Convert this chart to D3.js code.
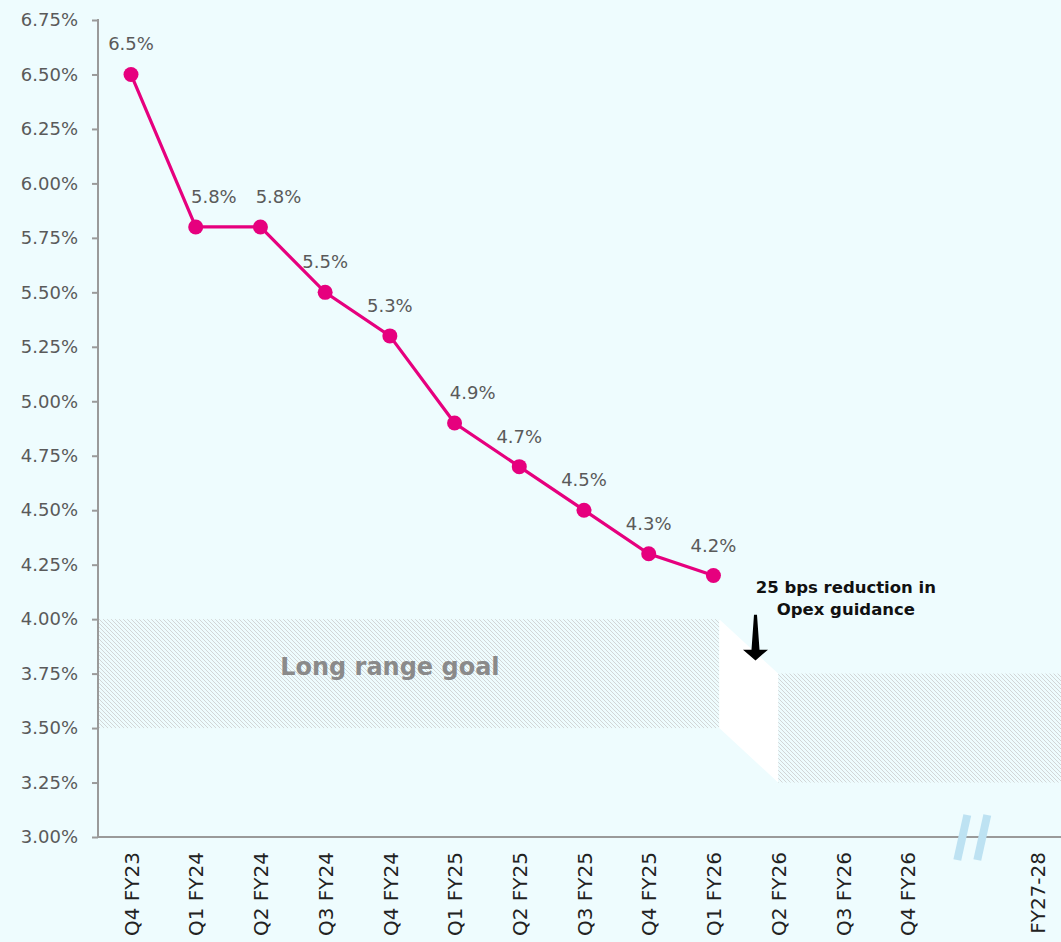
<!DOCTYPE html>
<html>
<head>
<meta charset="utf-8">
<script src="https://cdn.jsdelivr.net/npm/d3@7"></script>
<style>
  html, body { margin: 0; padding: 0; background: #eefcfe; }
  svg { display: block; }
</style>
</head>
<body>
<svg id="chart" width="1061" height="942"></svg>
<script>
// ---- data ----
const categories = ["Q4 FY23","Q1 FY24","Q2 FY24","Q3 FY24","Q4 FY24","Q1 FY25","Q2 FY25","Q3 FY25","Q4 FY25","Q1 FY26","Q2 FY26","Q3 FY26","Q4 FY26","__break__","FY27-28"];
const opexCategories = ["Q4 FY23","Q1 FY24","Q2 FY24","Q3 FY24","Q4 FY24","Q1 FY25","Q2 FY25","Q3 FY25","Q4 FY25","Q1 FY26"];
const opexValues = [6.5, 5.8, 5.8, 5.5, 5.3, 4.9, 4.7, 4.5, 4.3, 4.2];
const opexLabels = ["6.5%","5.8%","5.8%","5.5%","5.3%","4.9%","4.7%","4.5%","4.3%","4.2%"];
const yTicks = [3.00, 3.25, 3.50, 3.75, 4.00, 4.25, 4.50, 4.75, 5.00, 5.25, 5.50, 5.75, 6.00, 6.25, 6.50, 6.75];
const goalOld = [3.50, 4.00];   // long range goal (low, high)
const goalNew = [3.25, 3.75];   // after 25 bps reduction
const goalLabel = "Long range goal";
const annotationLines = ["25 bps reduction in", "Opex guidance"];
// labels nudged right to avoid the line
const nudgedLabels = ["Q1 FY24","Q2 FY24","Q1 FY25"];

(function () {
// ---- layout ----
const W = 1061, H = 942;
const mLeft = 98, mTop = 20, mBottom = 837;
const svg = d3.select("#chart");
const FONT = "'DejaVu Sans', sans-serif";

const x = d3.scalePoint().domain(categories).range([131, 1037]);
const step = x.step();
const y = d3.scaleLinear().domain([3, 6.75]).range([mBottom, mTop]);

// hatch pattern
const defs = svg.append("defs");
const pat = defs.append("pattern").attr("id","hatch").attr("patternUnits","userSpaceOnUse")
  .attr("width",4).attr("height",4);
pat.append("path").attr("d","M-1,-1 L5,5 M-1,3 L1,5 M3,-1 L5,1")
  .attr("stroke","#d2d6d7").attr("stroke-width",1).attr("fill","none");

// goal regions
const oldEnd = x("Q1 FY26") + step * 0.09;
const newStart = x("Q2 FY26");
svg.append("rect")
  .attr("x", mLeft + 1).attr("y", y(goalOld[1]))
  .attr("width", oldEnd - mLeft - 1).attr("height", y(goalOld[0]) - y(goalOld[1]))
  .attr("fill","url(#hatch)");
svg.append("rect")
  .attr("x", newStart).attr("y", y(goalNew[1]))
  .attr("width", W - newStart).attr("height", y(goalNew[0]) - y(goalNew[1]))
  .attr("fill","url(#hatch)");
// white transition parallelogram
svg.append("path")
  .attr("d", d3.line()([
    [oldEnd, y(goalOld[1])], [newStart, y(goalNew[1])],
    [newStart, y(goalNew[0])], [oldEnd, y(goalOld[0])]
  ]) + "Z")
  .attr("fill","#ffffff");

svg.append("text")
  .attr("x", x("Q4 FY24")).attr("y", y((goalOld[0] + goalOld[1]) / 2) + 1)
  .attr("text-anchor","middle").attr("font-family",FONT).attr("font-weight","bold")
  .attr("font-size",24).attr("fill","#8a8a8a").text(goalLabel);

// axes
const yAxis = svg.append("g").attr("transform",`translate(${mLeft},0)`)
  .call(d3.axisLeft(y).tickValues(yTicks).tickFormat(d => d.toFixed(2) + "%").tickSize(6).tickPadding(14));
yAxis.select(".domain").attr("stroke","#9a9a9a").attr("stroke-width",2).attr("d",`M0,${mTop - 1}V${mBottom}`);
yAxis.selectAll(".tick line").attr("stroke","#9a9a9a").attr("stroke-width",2);
yAxis.selectAll(".tick text").attr("font-family",FONT).attr("font-size",18).attr("fill","#5a5a5a");

svg.append("line").attr("x1",mLeft).attr("x2",W).attr("y1",mBottom).attr("y2",mBottom)
  .attr("stroke","#9a9a9a").attr("stroke-width",2);

const xAxis = svg.append("g").attr("transform",`translate(0,${mBottom})`)
  .call(d3.axisBottom(x).tickValues(categories.filter(c => c !== "__break__")).tickSize(0).tickPadding(0));
xAxis.select(".domain").remove();
xAxis.selectAll(".tick text")
  .attr("transform","rotate(-90)")
  .attr("x",-15).attr("y",0).attr("dy","0.36em")
  .attr("text-anchor","end")
  .attr("font-family",FONT).attr("font-size",20).attr("fill","#222");

// axis break mark
const bx = x("__break__");
[-10, 10].forEach(o => {
  svg.append("line")
    .attr("x1", bx + o + 5).attr("y1", mBottom - 22)
    .attr("x2", bx + o - 5).attr("y2", mBottom + 23)
    .attr("stroke","#bde2f2").attr("stroke-width",8);
});

// line + markers
const pts = opexCategories.map((c, i) => ({c, v: opexValues[i], l: opexLabels[i]}));
svg.append("path").datum(pts)
  .attr("d", d3.line().x(d => x(d.c)).y(d => y(d.v)))
  .attr("fill","none").attr("stroke","#e6007e").attr("stroke-width",3.2);
svg.selectAll("circle.pt").data(pts).enter().append("circle")
  .attr("cx", d => x(d.c)).attr("cy", d => y(d.v)).attr("r", 7.5).attr("fill","#e6007e");
svg.selectAll("text.lbl").data(pts).enter().append("text")
  .attr("x", d => x(d.c) + (nudgedLabels.includes(d.c) ? step * 0.28 : 0))
  .attr("y", d => y(d.v) - 24)
  .attr("text-anchor","middle").attr("font-family",FONT).attr("font-size",18)
  .attr("fill","#5a5a5a").text(d => d.l);

// annotation
const ax = x("Q3 FY26");
annotationLines.forEach((t, i) => {
  svg.append("text").attr("x", ax + 3).attr("y", y(4.25) + 28 + i * 22)
    .attr("text-anchor","middle").attr("font-family",FONT).attr("font-weight","bold")
    .attr("font-size",16.5).attr("fill","#111").text(t);
});
// arrow
const arX = x("Q1 FY26") + step * 0.65;
const aTop = y(4.02), aHead = y(3.86), aTip = y(3.81);
svg.append("path")
  .attr("d", `M${arX - 1.5},${aTop} L${arX + 1.5},${aTop} L${arX + 4},${aHead} L${arX + 12.5},${aHead} L${arX},${aTip} L${arX - 12.5},${aHead} L${arX - 4},${aHead} Z`)
  .attr("fill","#000");
})();
</script>
</body>
</html>
